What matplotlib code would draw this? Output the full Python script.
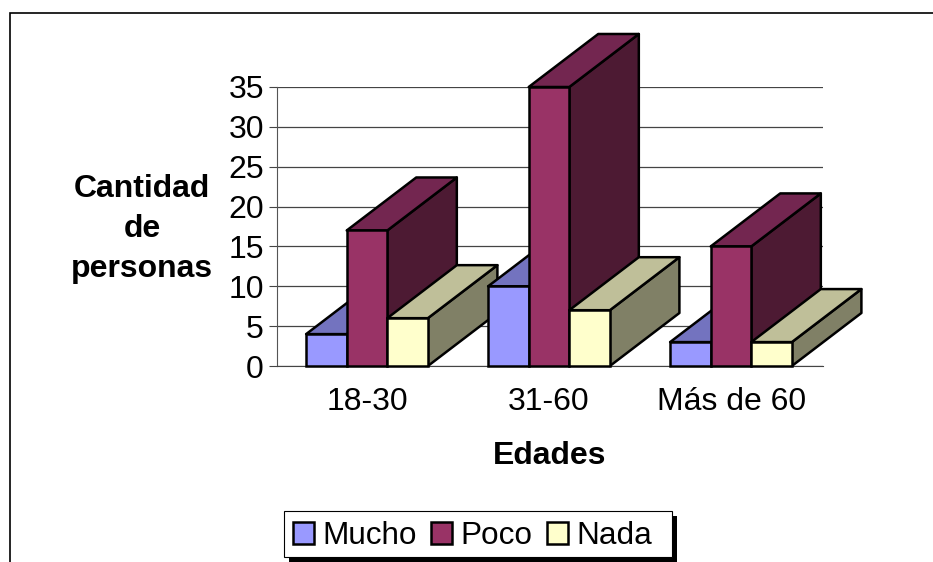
import matplotlib as mpl
mpl.use('Agg')
import matplotlib.pyplot as plt
from matplotlib.patches import Polygon, Patch, Rectangle

categories = ["18-30", "31-60", "Más de 60"]
mucho = [4, 10, 3]
poco = [17, 35, 15]
nada = [6, 7, 3]
series_names = ["Mucho", "Poco", "Nada"]
colors = ["#9999FF", "#993366", "#FFFFCC"]
tops = ["#7373BF", "#732650", "#BFBF99"]
sides = ["#4D4D80", "#4D1A33", "#808066"]

plt.rcParams['font.family'] = ['Liberation Sans', 'DejaVu Sans']

bar_w = 0.223
depth_x = 0.382
depth_y = 6.65
edge = 1.8


def bar3d(ax, x0, h, i):
    x1 = x0 + bar_w
    ax.add_patch(Polygon([(x1, 0), (x1 + depth_x, depth_y), (x1 + depth_x, h + depth_y), (x1, h)],
                         fc=sides[i], ec='k', lw=edge, clip_on=False, joinstyle='round', zorder=3))
    ax.add_patch(Polygon([(x0, h), (x1, h), (x1 + depth_x, h + depth_y), (x0 + depth_x, h + depth_y)],
                         fc=tops[i], ec='k', lw=edge, clip_on=False, joinstyle='round', zorder=3))
    ax.add_patch(Rectangle((x0, 0), bar_w, h, fc=colors[i], ec='k', lw=edge, clip_on=False, zorder=3))


fig = plt.figure(figsize=(9.33, 5.62), dpi=100)
ax = fig.add_axes([277 / 933, 1 - 366 / 562, 546 / 933, 279 / 562])

# outer chart frame, right and bottom sides fall off the picture
fig.add_artist(Rectangle((9.5 / 933, -0.1), 1.1, 0.1 + 1 - 13.5 / 562, fc='none', ec='k', lw=1.2,
                         transform=fig.transFigure, zorder=-2))

# legend box and its shadow, below the axes so the legend stays on top
fig.add_artist(Rectangle((289 / 933, 1 - 562 / 562), 388 / 933, 46 / 562, fc='k', ec='none',
                         transform=fig.transFigure, zorder=-2))
fig.add_artist(Rectangle((284 / 933, 1 - 557 / 562), 388 / 933, 46 / 562, fc='w', ec='k', lw=0.8,
                         transform=fig.transFigure, zorder=-1))

for g in range(len(categories)):
    for i, vals in enumerate([mucho, poco, nada]):
        bar3d(ax, g - 0.34 + i * bar_w, vals[g], i)

ax.set_xlim(-0.5, 2.5)
ax.set_ylim(0, 35)
ax.set_yticks(range(0, 36, 5))
ax.set_xticks([-0.005, 0.995, 2.0])
ax.set_xticklabels(categories)
ax.tick_params(axis='y', length=6, width=0.8, color='#444444', labelsize=23, pad=3.5)
ax.tick_params(axis='x', length=0, labelsize=23, pad=15)
ax.grid(axis='y', color='#444444', lw=0.9)
ax.set_axisbelow(True)
for s in ['top', 'right']:
    ax.spines[s].set_visible(False)
ax.spines['left'].set_color('#555555')
ax.spines['bottom'].set_color('#444444')

ax.set_ylabel("Cantidad\nde\npersonas", rotation=0, fontsize=23, fontweight='bold',
              ha='center', va='center', linespacing=1.43)
ax.yaxis.set_label_coords(-0.247, 0.49)
ax.set_xlabel("Edades", fontsize=23, fontweight='bold', ha='center', va='center')
ax.xaxis.set_label_coords(0.5, -0.322)

handles = [Patch(fc=colors[i], ec='k', lw=edge) for i in range(3)]
leg = ax.legend(handles, series_names, loc='upper left', bbox_to_anchor=(293 / 933, 1 - 521 / 562),
                bbox_transform=fig.transFigure, ncol=3, fontsize=22.7, borderaxespad=0,
                frameon=False, handlelength=0.67, handleheight=0.67, handletextpad=0.25,
                columnspacing=0.47, borderpad=0)

fig.savefig("out.png", dpi=100)
